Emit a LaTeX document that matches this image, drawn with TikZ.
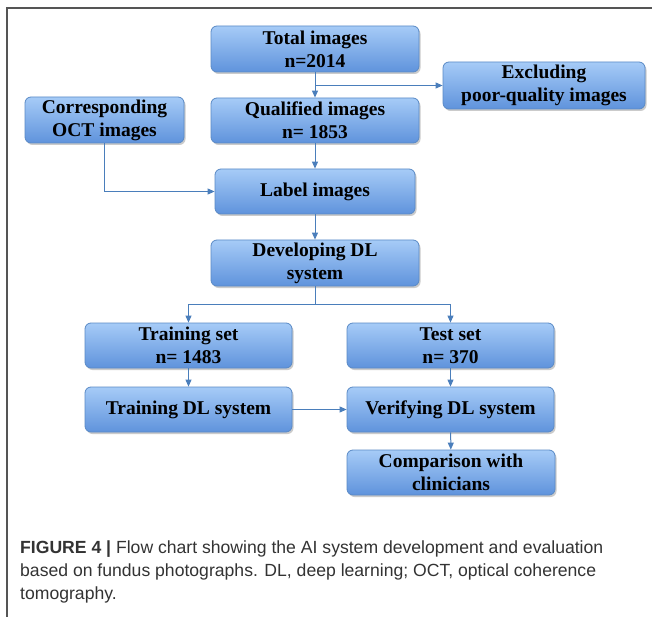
\documentclass[tikz,border=0pt]{standalone}
\usepackage{fontspec}
\setmainfont{Liberation Serif}
\newfontfamily\capfont{Liberation Sans}
\usetikzlibrary{shadows,arrows.meta,calc}
\definecolor{boxtop}{HTML}{A6CBF7}
\definecolor{boxbot}{HTML}{5F93DC}
\definecolor{boxline}{HTML}{5A8AC6}
\definecolor{arrowc}{HTML}{4A7EBB}
\definecolor{framec}{HTML}{555555}
\definecolor{capc}{HTML}{333333}
\begin{document}
\begin{tikzpicture}[x=1pt,y=-1pt,
  flowbox/.style={rectangle, rounded corners=6pt, draw=boxline, line width=0.8pt,
    top color=boxtop, bottom color=boxbot, align=center,
    font=\fontsize{19.5}{23}\selectfont\bfseries, inner sep=0pt,
    drop shadow={shadow xshift=1.5pt, shadow yshift=-2pt, fill=black!45, opacity=0.45}},
  arr/.style={draw=arrowc, line width=1pt, -{Triangle[length=7pt,width=6pt]}},
  ln/.style={draw=arrowc, line width=1pt},
  capline/.style={anchor=base west, inner sep=0pt, text=capc, font=\capfont\fontsize{17.6}{20}\selectfont}
]
\useasboundingbox (0,0) rectangle (652,617);
\fill[white] (0,0) rectangle (652,617);
\draw[framec, line width=1.2pt] (7,617) -- (7,8) -- (652,8);

\node[flowbox, minimum width=208pt, minimum height=46pt] (total) at (315,49) {Total images\\n=2014};
\node[flowbox, minimum width=208pt, minimum height=45pt] (qual) at (315,120.5) {Qualified images\\n= 1853};
\node[flowbox, minimum width=200pt, minimum height=45pt] (label) at (315,191.5) {Label images};
\node[flowbox, minimum width=208pt, minimum height=46pt] (dev) at (315,263) {Developing DL\\system};
\node[flowbox, minimum width=202pt, minimum height=47pt] (excl) at (544,85.5) {Excluding\\poor-quality images};
\node[flowbox, minimum width=159pt, minimum height=46pt] (oct) at (104.5,120) {Corresponding\\OCT images};
\node[flowbox, minimum width=207pt, minimum height=45pt] (trs) at (188.5,345.5) {Training set\\n= 1483};
\node[flowbox, minimum width=207pt, minimum height=45pt] (tes) at (450.5,345.5) {Test set\\n= 370};
\node[flowbox, minimum width=207pt, minimum height=45pt] (trdl) at (188.5,409.5) {Training DL system};
\node[flowbox, minimum width=207pt, minimum height=45pt] (ver) at (450.5,409.5) {Verifying DL system};
\node[flowbox, minimum width=208pt, minimum height=45pt] (cmp) at (451,472.5) {Comparison with\\clinicians};

\coordinate (split) at ($(total.south)!0.5!(qual.north)$);
\coordinate (branch) at (315,304);

\draw[arr] (total) -- (qual);
\draw[arr] (split |- excl.west) -- (excl.west);
\draw[arr] (qual) -- (label);
\draw[arr] (oct.south) |- (label.west);
\draw[arr] (label) -- (dev);
\draw[ln] (dev.south) -- (branch);
\draw[arr] (branch) -| (trs.north);
\draw[arr] (branch) -| (tes.north);
\draw[arr] (trs) -- (trdl);
\draw[arr] (tes) -- (ver);
\draw[arr] (trdl) -- (ver);
\draw[arr] (ver) -- (cmp);

\node[capline] (cap1) at (20,553) {\textbf{FIGURE 4 |} Flow chart showing the AI system development and evaluation};
\node[capline] (cap2) at (20,576) {based on fundus photographs. DL, deep learning; OCT, optical coherence};
\node[capline] (cap3) at (20,599) {tomography.};
\end{tikzpicture}
\end{document}
